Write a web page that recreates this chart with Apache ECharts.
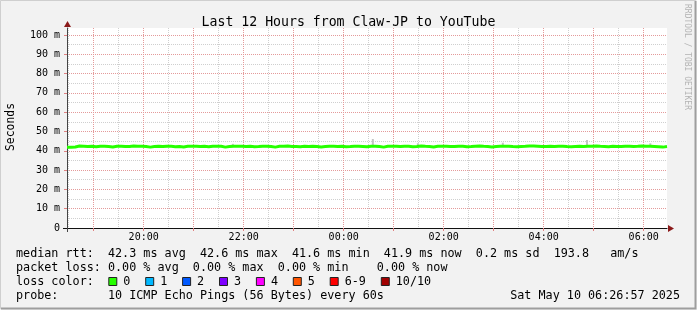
<!DOCTYPE html>
<html>
<head>
<meta charset="utf-8">
<script src="https://cdn.jsdelivr.net/npm/echarts@6/dist/echarts.min.js"></script>
<style>
  html, body { margin: 0; padding: 0; background: #f2f2f2; }
  #chart { width: 697px; height: 310px; }
</style>
</head>
<body>
<div id="chart"></div>
<script>
// median rtt in ms, one value every 5 minutes starting 18:28
const medianRtt = [
  41.8, 42.0, 42.5, 42.4, 42.2, 42.3, 42.1, 42.4, 42.3, 42.2,
  42.0, 42.3, 42.4, 42.2, 42.2, 42.5, 42.4, 42.3, 42.2, 41.9,
  42.2, 42.3, 42.2, 42.4, 42.3, 42.1, 42.2, 42.0, 42.3, 42.4,
  42.4, 42.2, 42.3, 42.1, 42.4, 42.3, 42.3, 41.9, 42.2, 42.3,
  42.3, 42.4, 42.2, 42.3, 42.1, 42.2, 42.4, 42.3, 42.2, 41.9,
  42.3, 42.4, 42.5, 42.2, 42.2, 42.1, 42.3, 42.2, 42.3, 42.2,
  42.0, 42.2, 42.4, 42.3, 42.2, 42.3, 42.1, 42.2, 42.4, 42.3,
  42.2, 42.1, 42.3, 42.4, 42.2, 41.9, 42.3, 42.4, 42.3, 42.2,
  42.4, 42.3, 42.1, 42.2, 42.5, 42.3, 42.2, 42.0, 42.3, 42.4,
  42.3, 42.2, 42.2, 42.4, 42.3, 42.1, 42.2, 42.4, 42.5, 42.3,
  42.2, 42.0, 42.2, 42.3, 42.3, 42.4, 42.2, 42.1, 42.2, 42.3,
  42.5, 42.5, 42.4, 42.2, 42.2, 42.3, 42.2, 42.3, 42.4, 42.2,
  42.1, 42.2, 42.3, 42.2, 42.4, 42.4, 42.5, 42.3, 42.2, 42.1,
  42.3, 42.2, 42.2, 42.4, 42.3, 42.2, 42.3, 42.5, 42.4, 42.3,
  42.2, 42.1, 41.9, 42.2, 41.9
]
const stepMinutes = 5

// smoke spikes (minutes after start, low and high in ms)
const smokeMinute = [199, 367, 421, 523, 624, 700]
const smokeLow = [42.0, 42.0, 42.0, 42.0, 42.0, 42.0]
const smokeHigh = [43.6, 46.1, 43.9, 44.2, 45.6, 43.9]

const startHour = 18
const startMinute = 28
const spanMinutes = 720

const yTicks = [0, 10, 20, 30, 40, 50, 60, 70, 80, 90, 100]

const lossLabels = ['0', '1', '2', '3', '4', '5', '6-9', '10/10']
const lossColors = ['#26ff00', '#00b8ff', '#0059ff', '#7e00ff', '#ff00ff', '#ff5500', '#ff0000', '#a10000']

const titleText = 'Last 12 Hours from Claw-JP to YouTube'
const legendLines = [
  'median rtt:  42.3 ms avg  42.6 ms max  41.6 ms min  41.9 ms now  0.2 ms sd  193.8   am/s',
  'packet loss: 0.00 % avg  0.00 % max  0.00 % min    0.00 % now',
  'loss color:',
  'probe:       10 ICMP Echo Pings (56 Bytes) every 60s'
]
const dateText = 'Sat May 10 06:26:57 2025'

// category per minute
const times = []
for (let i = 0; i <= spanMinutes; i++) {
  const m = (startHour * 60 + startMinute + i) % 1440
  times.push(String(Math.floor(m / 60)).padStart(2, '0') + ':' + String(m % 60).padStart(2, '0'))
}
const isHour = v => v.endsWith(':00')
const isHalf = v => v.endsWith(':30')

const mono = 'DejaVu Sans Mono'
const G = { left: 67, top: 28, width: 600, height: 200 }
const charW = 7.1
const lineY = [254, 268, 282, 296]
const legendFont = '11.75px ' + mono

const chart = echarts.init(document.querySelector('#chart'), null, { renderer: 'canvas' })

const graphic = []
// frame
graphic.push({ type: 'rect', shape: { x: 0.5, y: 0.5, width: 695, height: 308 }, style: { fill: 'none', stroke: '#cfcfcf', lineWidth: 1 }, silent: true })
graphic.push({ type: 'polyline', shape: { points: [[1, 308.5], [695.5, 308.5], [695.5, 1]] }, style: { stroke: '#9e9e9e', lineWidth: 2, fill: 'none' }, silent: true })
// axis stubs past the origin
graphic.push({ type: 'line', shape: { x1: G.left + 0.5, y1: G.top + G.height, x2: G.left + 0.5, y2: G.top + G.height + 4 }, style: { stroke: '#444', lineWidth: 1 }, z: 10 })
graphic.push({ type: 'line', shape: { x1: G.left - 4, y1: G.top + G.height + 0.5, x2: G.left, y2: G.top + G.height + 0.5 }, style: { stroke: '#111', lineWidth: 1 }, z: 10 })
// axis arrows
graphic.push({ type: 'polygon', shape: { points: [[G.left - 3, G.top - 1], [G.left + 4, G.top - 1], [G.left + 0.5, G.top - 7]] }, style: { fill: '#8b1a1a' }, z: 10 })
graphic.push({ type: 'polygon', shape: { points: [[G.left + G.width + 1, G.top + G.height - 3], [G.left + G.width + 1, G.top + G.height + 4], [G.left + G.width + 7, G.top + G.height + 0.5]] }, style: { fill: '#8b1a1a' }, z: 10 })
// y title
graphic.push({ type: 'text', x: 11, y: 127, rotation: Math.PI / 2, style: { text: 'Seconds', font: '11.4px ' + mono, fill: '#000', align: 'center', verticalAlign: 'middle' } })
// watermark
graphic.push({ type: 'text', x: 687, y: 4, rotation: -Math.PI / 2, style: { text: 'RRDTOOL / TOBI OETIKER', font: '8px ' + mono, fill: '#b4b4b4', align: 'left', verticalAlign: 'middle' } })
// legend lines
legendLines.forEach((t, i) => {
  graphic.push({ type: 'text', x: 16, y: lineY[i], style: { text: t, font: legendFont, fill: '#000', align: 'left', verticalAlign: 'middle' } })
})
graphic.push({ type: 'text', x: 680, y: lineY[3], style: { text: dateText, font: legendFont, fill: '#000', align: 'right', verticalAlign: 'middle' } })
// loss colour boxes
let bx = 16 + 13 * charW
lossLabels.forEach((lab, i) => {
  graphic.push({ type: 'rect', shape: { x: bx + 0.5, y: lineY[2] - 4.5, width: 8, height: 8 }, style: { fill: lossColors[i], stroke: '#222', lineWidth: 1 } })
  graphic.push({ type: 'text', x: bx + 15, y: lineY[2], style: { text: lab, font: legendFont, fill: '#000', align: 'left', verticalAlign: 'middle' } })
  bx += 15 + lab.length * charW + 14.8
})

const option = {
  animation: false,
  backgroundColor: '#f2f2f2',
  title: {
    text: titleText, left: 'center', top: 11,
    textStyle: { fontFamily: mono, fontSize: 13.2, fontWeight: 'normal', color: '#000' }
  },
  grid: { left: G.left, top: G.top, width: G.width, height: G.height, show: true, backgroundColor: '#fff', borderWidth: 0 },
  xAxis: [
    {
      type: 'category', data: times, boundaryGap: false, position: 'bottom',
      axisLine: { lineStyle: { color: '#111', width: 1 } },
      axisTick: { show: true, length: 3, interval: (i, v) => isHour(v), lineStyle: { color: '#e08080' } },
      axisLabel: {
        interval: (i, v) => isHour(v) && parseInt(v, 10) % 2 === 0,
        fontFamily: mono, fontSize: 10, color: '#000', margin: 4
      },
      splitLine: { show: true, interval: (i, v) => isHour(v), lineStyle: { color: '#e49a9a', type: [1, 1], width: 1 } }
    },
    {
      type: 'category', data: times, boundaryGap: false, position: 'top',
      axisLine: { show: false }, axisTick: { show: false }, axisLabel: { show: false },
      splitLine: { show: true, interval: (i, v) => isHalf(v), lineStyle: { color: '#cfcfcf', type: [1, 1], width: 1 } }
    }
  ],
  yAxis: {
    type: 'value', min: 0, max: 103.6, interval: 10,
    axisLine: { show: true, lineStyle: { color: '#444', width: 1 } },
    axisTick: { show: true, length: 3, lineStyle: { color: '#e08080' } },
    axisLabel: {
      fontFamily: mono, fontSize: 10, color: '#000', margin: 7, showMaxLabel: false,
      formatter: v => yTicks.includes(v) ? (v === 0 ? '0' : v + ' m') : ''
    },
    splitLine: { show: true, showMinLine: false, showMaxLine: false, lineStyle: { color: '#e49a9a', type: [1, 1], width: 1 } },
    minorTick: { show: false, splitNumber: 2 },
    minorSplitLine: { show: true, lineStyle: { color: '#cfcfcf', type: [1, 1], width: 1 } }
  },
  series: [
    {
      type: 'bar', stack: 'smoke', barWidth: 2, silent: true,
      itemStyle: { color: 'rgba(0,0,0,0)' },
      data: smokeMinute.map((m, i) => [m, smokeLow[i]])
    },
    {
      type: 'bar', stack: 'smoke', barWidth: 2, silent: true,
      itemStyle: { color: '#c4c4c4' },
      data: smokeMinute.map((m, i) => [m, smokeHigh[i] - smokeLow[i]])
    },
    {
      type: 'line', step: 'end', showSymbol: false, silent: true,
      lineStyle: { color: '#26ff00', width: 3 },
      data: medianRtt.map((v, i) => [i * stepMinutes, v])
    }
  ],
  graphic: graphic
}
chart.setOption(option)
</script>
</body>
</html>
